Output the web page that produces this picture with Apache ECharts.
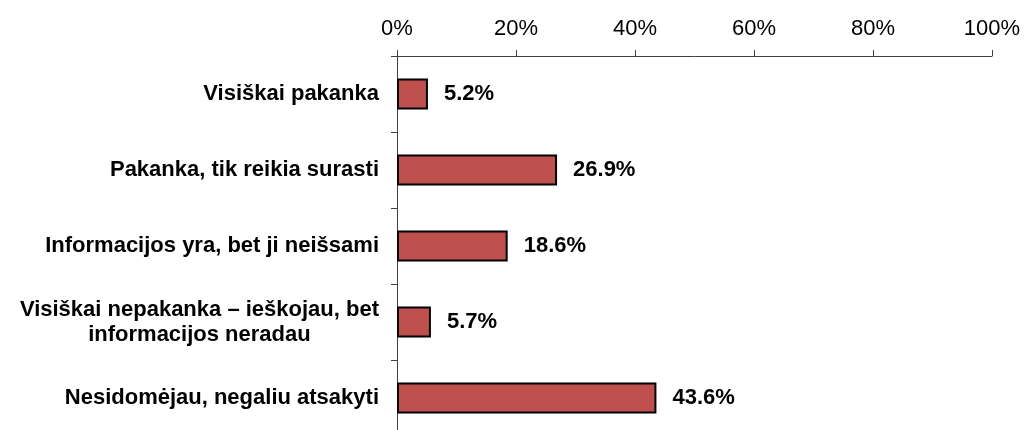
<!DOCTYPE html>
<html>
<head>
<meta charset="utf-8">
<script src="https://cdn.jsdelivr.net/npm/echarts@6/dist/echarts.min.js"></script>
<style>
  html, body { margin: 0; padding: 0; background: #fff; overflow: hidden; }
  /* the plot area runs slightly past the visible bottom edge */
  #chart { width: 1026px; height: 436px; }
</style>
</head>
<body>
<div id="chart"></div>
<script>
// Survey answers (top to bottom) and their shares in percent
const categories = [
  'Visiškai pakanka',
  'Pakanka, tik reikia surasti',
  'Informacijos yra, bet ji neišsami',
  'Visiškai nepakanka – ieškojau, bet\ninformacijos neradau',
  'Nesidomėjau, negaliu atsakyti'
];
const shares = [5.2, 26.9, 18.6, 5.7, 43.6];
const tickValues = [0, 20, 40, 60, 80, 100];

const FONT = '"Liberation Sans", Arial, sans-serif';

const chart = echarts.init(document.getElementById('chart'), null, { renderer: 'canvas' });

chart.setOption({
  backgroundColor: '#ffffff',
  animation: false,
  grid: { left: 397, top: 56, right: 34, bottom: 0, containLabel: false },
  xAxis: {
    type: 'value',
    position: 'top',
    min: tickValues[0],
    max: tickValues[tickValues.length - 1],
    interval: tickValues[1] - tickValues[0],
    axisLine: { show: true, lineStyle: { color: '#404040', width: 1 } },
    axisTick: { show: true, length: 6, lineStyle: { color: '#404040', width: 1 } },
    splitLine: { show: false },
    axisLabel: {
      formatter: '{value}%',
      color: '#000',
      fontFamily: FONT,
      fontSize: 22,
      margin: 16
    }
  },
  yAxis: {
    type: 'category',
    data: categories,
    inverse: true,
    axisLine: { show: true, lineStyle: { color: '#404040', width: 1 } },
    axisTick: { show: true, length: 6, lineStyle: { color: '#404040', width: 1 } },
    splitLine: { show: false },
    axisLabel: {
      color: '#000',
      fontFamily: FONT,
      fontSize: 22,
      fontWeight: 'bold',
      margin: 18,
      lineHeight: 25,
      formatter: function (v) {
        // multi-line answers are centred line by line
        if (v.indexOf('\n') >= 0) {
          return v.split('\n').map(function (s) { return '{c|' + s + '}'; }).join('\n');
        }
        return v;
      },
      rich: {
        c: {
          align: 'center',
          fontFamily: FONT,
          fontSize: 22,
          fontWeight: 'bold',
          color: '#000',
          lineHeight: 25
        }
      }
    }
  },
  series: [{
    type: 'bar',
    data: shares,
    barWidth: 31,
    itemStyle: { color: '#C0504D', borderColor: '#000', borderWidth: 2 },
    label: {
      show: true,
      position: 'right',
      distance: 16,
      formatter: function (p) { return p.value.toFixed(1) + '%'; },
      color: '#000',
      fontFamily: FONT,
      fontSize: 22,
      fontWeight: 'bold'
    }
  }]
});
</script>
</body>
</html>
